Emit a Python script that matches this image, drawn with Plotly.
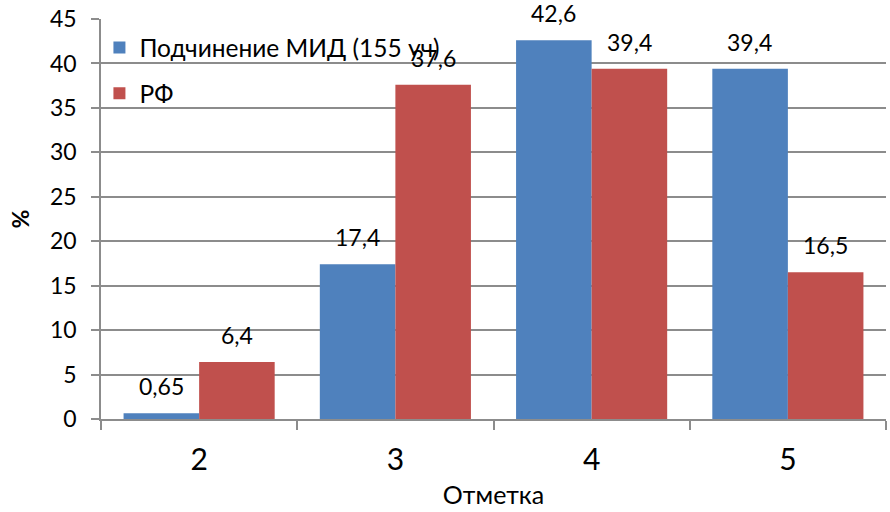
import plotly.graph_objects as go

categories = ["2", "3", "4", "5"]
mid_values = [0.65, 17.4, 42.6, 39.4]
rf_values = [6.4, 37.6, 39.4, 16.5]
mid_labels = ["0,65", "17,4", "42,6", "39,4"]
rf_labels = ["6,4", "37,6", "39,4", "16,5"]
series_names = ["Подчинение МИД (155 уч)", "РФ"]
y_ticks = [0, 5, 10, 15, 20, 25, 30, 35, 40, 45]

FONT = "Lato"
BLUE = "#4F81BD"
RED = "#C0504D"
GRID = "#8C8C8C"

fig = go.Figure()
fig.add_trace(go.Bar(x=categories, y=mid_values, name=series_names[0], legendgroup="a",
                     marker=dict(color=BLUE, line=dict(width=0))))
fig.add_trace(go.Bar(x=categories, y=rf_values, name=series_names[1], legendgroup="b",
                     marker=dict(color=RED, line=dict(width=0))))

annotations = []
for vals, labels, shift in ((mid_values, mid_labels, -38), (rf_values, rf_labels, 38)):
    for i, (v, t) in enumerate(zip(vals, labels)):
        annotations.append(dict(x=i, y=v, xref="x", yref="y", text=t, showarrow=False,
                                xshift=shift, yshift=11, yanchor="bottom",
                                font=dict(family=FONT, size=23, color="#000000")))

fig.update_layout(
    width=890, height=512,
    margin=dict(l=101, r=4, t=19, b=93),
    plot_bgcolor="white", paper_bgcolor="white",
    barmode="group", bargap=0.23, bargroupgap=0,
    font=dict(family=FONT, color="#000000"),
    legend=dict(x=-0.002, y=0.985, xanchor="left", yanchor="top",
                bgcolor="rgba(0,0,0,0)", font=dict(family=FONT, size=24.5),
                traceorder="grouped", tracegroupgap=11, itemwidth=30),
    annotations=annotations,
    xaxis=dict(type="category", range=[-0.5, 3.5], showline=True, linecolor=GRID,
               linewidth=1.5, ticks="outside", tickson="boundaries", ticklen=9,
               tickcolor=GRID, tickwidth=1.5, tickfont=dict(family=FONT, size=30),
               ticklabelstandoff=13, automargin=False,
               title=dict(text="Отметка", font=dict(family=FONT, size=25), standoff=12)),
    yaxis=dict(range=[0, 45], tickvals=y_ticks, showline=True, linecolor=GRID,
               linewidth=1.5, showgrid=True, gridcolor=GRID, gridwidth=1.5,
               ticks="outside", ticklen=8, tickcolor=GRID, tickwidth=1.5,
               tickfont=dict(family=FONT, size=23), zeroline=False,
               ticklabelstandoff=10, automargin=False,
               title=dict(text="<b>%</b>", font=dict(family=FONT, size=23), standoff=14)),
)

fig.write_html("out.html", config={"displayModeBar": False},
               post_script="document.body.style.margin='0';document.body.style.overflow='hidden';")
